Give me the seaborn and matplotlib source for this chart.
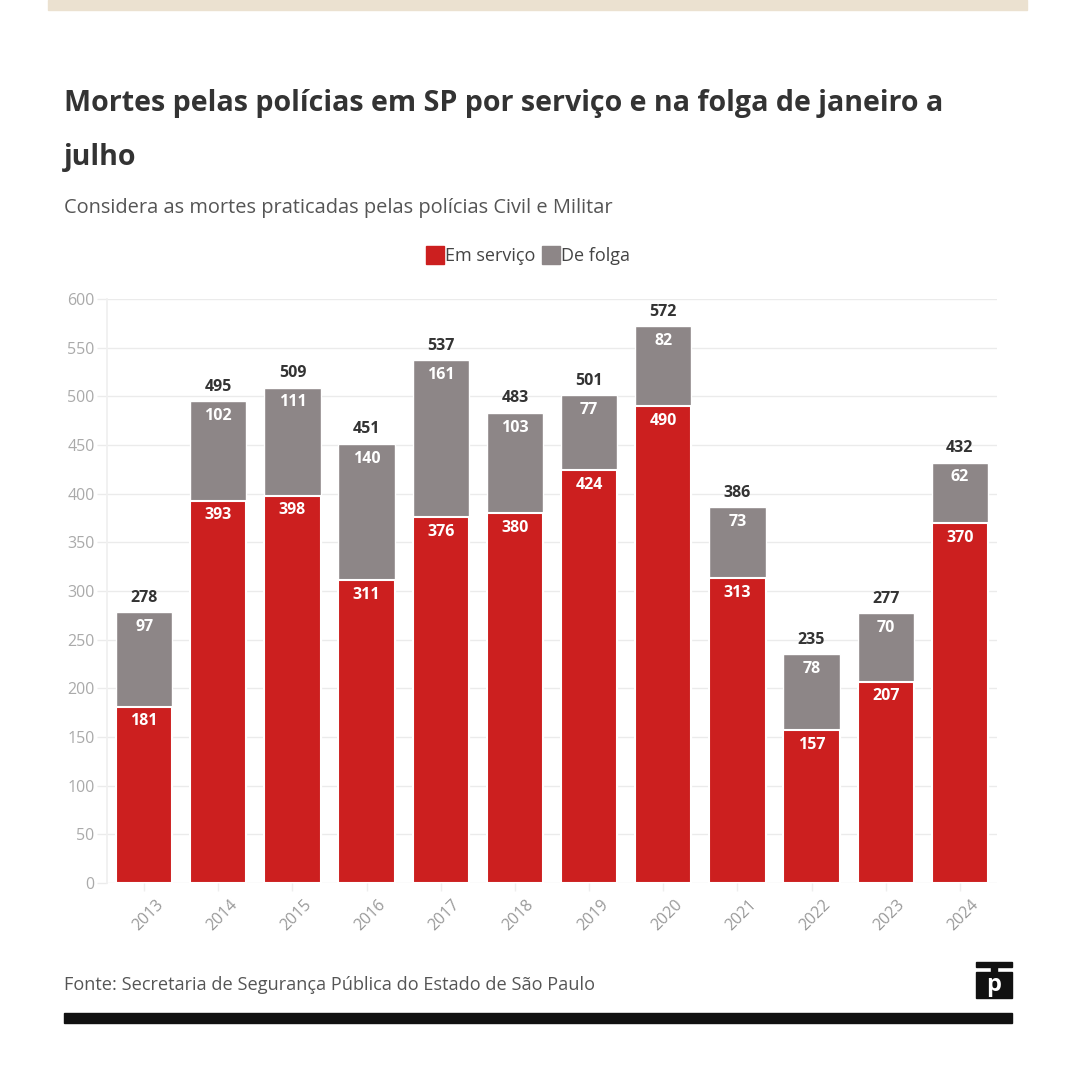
import matplotlib
matplotlib.use("Agg")
import matplotlib.pyplot as plt
import matplotlib.transforms as mtrans
import seaborn as sns
import pandas as pd
from matplotlib.lines import Line2D
from matplotlib.patches import Rectangle

years = ["2013", "2014", "2015", "2016", "2017", "2018", "2019", "2020", "2021", "2022", "2023", "2024"]
em_servico = [181, 393, 398, 311, 376, 380, 424, 490, 313, 157, 207, 370]
de_folga = [97, 102, 111, 140, 161, 103, 77, 82, 73, 78, 70, 62]

df = pd.DataFrame({"ano": years, "servico": em_servico, "folga": de_folga})
df["total"] = df["servico"] + df["folga"]

red = "#cc1f1f"
grey = "#8d8687"

sns.set_theme(style="white")
plt.rcParams["font.family"] = ["Open Sans", "DejaVu Sans"]

fig = plt.figure(figsize=(10.8, 10.8), dpi=100)
ax = fig.add_axes([107 / 1080, 0.1824, 890 / 1080, 0.5407])

sns.barplot(data=df, x="ano", y="total", color=grey, width=0.76, saturation=1, ax=ax)
sns.barplot(data=df, x="ano", y="servico", color=red, width=0.76, saturation=1,
            edgecolor="white", linewidth=1.5, ax=ax)

for i, row in df.iterrows():
    ax.text(i, row["servico"] - 15, str(row["servico"]), ha="center", va="center",
            color="white", fontsize=11.5, fontweight="bold")
    ax.text(i, row["total"] - 15, str(row["folga"]), ha="center", va="center",
            color="white", fontsize=11.5, fontweight="bold")
    ax.text(i, row["total"] + 15, str(row["total"]), ha="center", va="center",
            color="#333333", fontsize=11.5, fontweight="bold")

ax.set_ylim(0, 600)
ax.set_xlim(-0.5, 11.5)
ax.set_yticks(range(0, 601, 50))
ax.yaxis.grid(True, color="#ebebeb", linewidth=1)
ax.set_axisbelow(True)
for s in ax.spines.values():
    s.set_visible(False)
ax.spines["left"].set_visible(True)
ax.spines["left"].set_color("#f0f0f0")
ax.set_xlabel("")
ax.set_ylabel("")
ax.tick_params(axis="y", colors="#ebebeb", labelcolor="#aaaaaa", labelsize=11.5,
               length=7, width=1, left=True, pad=2)
ax.tick_params(axis="x", colors="#eeeeee", labelcolor="#999999", labelsize=11.5,
               length=6, width=1, bottom=True, pad=4)
off = mtrans.ScaledTranslation(11 / 100, 0, fig.dpi_scale_trans)
for lab in ax.get_xticklabels():
    lab.set_rotation(45)
    lab.set_ha("right")
    lab.set_rotation_mode("anchor")
    lab.set_transform(lab.get_transform() + off)

# cabeçalho / rodapé
fig.patches.append(Rectangle((48 / 1080, 1 - 10 / 1080), 979 / 1080, 10 / 1080,
                             transform=fig.transFigure, color="#ebe1d0", zorder=0))
fig.text(64 / 1080, 1 - 103 / 1080, "Mortes pelas polícias em SP por serviço e na folga de janeiro a",
         fontsize=20.6, fontweight="bold", color="#333333", va="center")
fig.text(64 / 1080, 1 - 158 / 1080, "julho",
         fontsize=20.6, fontweight="bold", color="#333333", va="center")
fig.text(64 / 1080, 1 - 208 / 1080, "Considera as mortes praticadas pelas polícias Civil e Militar",
         fontsize=14.4, color="#555555", va="center")

handles = [Line2D([], [], marker="s", linestyle="", markersize=13, color=red),
           Line2D([], [], marker="s", linestyle="", markersize=13, color=grey)]
fig.legend(handles, ["Em serviço", "De folga"], loc="center", bbox_to_anchor=(528 / 1080, 1 - 256 / 1080),
           ncol=2, frameon=False, fontsize=13, handletextpad=0.05, columnspacing=0.4,
           handlelength=1.0, labelcolor="#444444")

fig.text(64 / 1080, 1 - 985 / 1080, "Fonte: Secretaria de Segurança Pública do Estado de São Paulo",
         fontsize=13.1, color="#555555", va="center")
fig.patches.append(Rectangle((64 / 1080, 1 - 1023 / 1080), 948 / 1080, 10 / 1080,
                             transform=fig.transFigure, color="#111111", zorder=0))
# logo
fig.patches.append(Rectangle((976 / 1080, 1 - 998 / 1080), 36 / 1080, 26 / 1080,
                             transform=fig.transFigure, color="#111111"))
fig.patches.append(Rectangle((976 / 1080, 1 - 967 / 1080), 36 / 1080, 5 / 1080,
                             transform=fig.transFigure, color="#111111"))
fig.patches.append(Rectangle((991 / 1080, 1 - 972 / 1080), 6 / 1080, 5 / 1080,
                             transform=fig.transFigure, color="#111111"))
fig.text(994 / 1080, 1 - 985 / 1080, "p", fontsize=17, fontweight="bold", color="white",
         ha="center", va="center")

fig.savefig("out.png", dpi=100, facecolor="white")
